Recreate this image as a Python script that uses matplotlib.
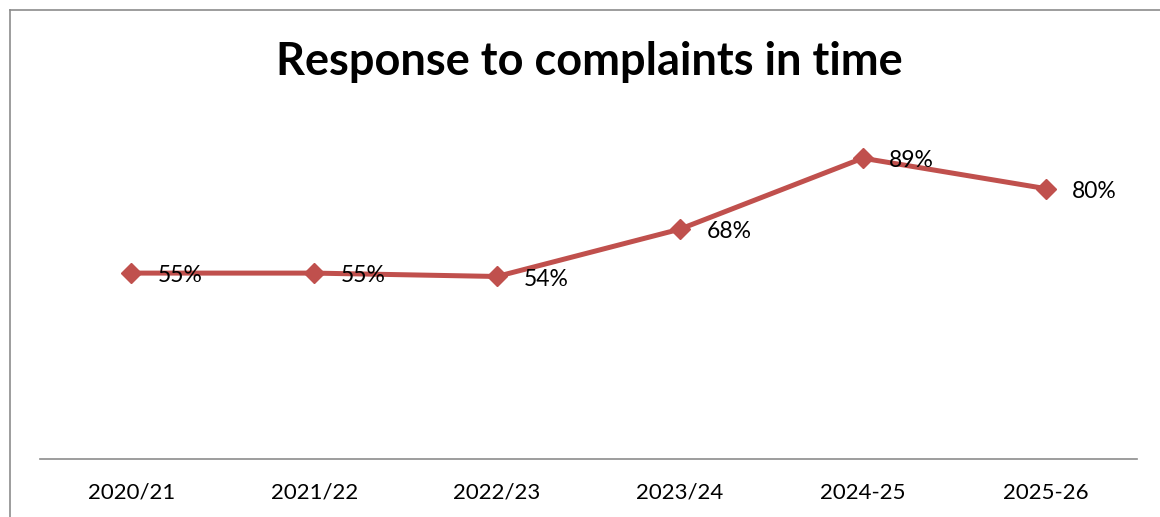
import matplotlib.pyplot as plt
from matplotlib.lines import Line2D

# データ
years = ["2020/21", "2021/22", "2022/23", "2023/24", "2024-25", "2025-26"]
values = [55, 55, 54, 68, 89, 80]

plt.rcParams["font.family"] = ["Lato", "DejaVu Sans"]

fig = plt.figure(figsize=(11.6, 5.17), dpi=100)
ax = fig.add_axes([40 / 1160, 58 / 517, 1097 / 1160, 338 / 517])

x = list(range(len(years)))
ax.plot(x, values, color="#C0504D", linewidth=3.6, marker="D", markersize=10.5)

for xi, v in zip(x, values):
    ax.annotate(f"{v}%", (xi, v), xytext=(19, -2), textcoords="offset points",
                ha="left", va="center", fontsize=16.5)

ax.set_xlim(-0.5, len(years) - 0.5)
ax.set_ylim(0, 100)
ax.set_xticks(x)
ax.set_xticklabels(years, fontsize=16)
ax.tick_params(axis="x", length=0, pad=17)
ax.set_yticks([])
for s in ["top", "right", "left"]:
    ax.spines[s].set_visible(False)
ax.spines["bottom"].set_color("#8c8c8c")
ax.spines["bottom"].set_linewidth(1.2)

fig.text(589 / 1160, 1 - 62 / 517, "Response to complaints in time",
         ha="center", va="center", fontsize=32.5, fontweight="bold")

# 枠線（上と左）
fig.add_artist(Line2D([10 / 1160, 1], [1 - 10 / 517] * 2, color="#8c8c8c", linewidth=1.2))
fig.add_artist(Line2D([10 / 1160] * 2, [0, 1 - 10 / 517], color="#8c8c8c", linewidth=1.2))

fig.savefig("out.png", dpi=100)
